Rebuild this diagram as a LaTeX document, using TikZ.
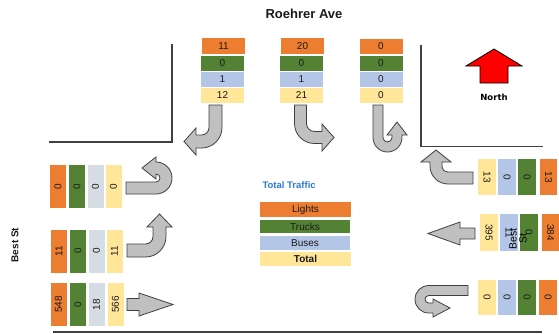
\documentclass[tikz,border=0pt]{standalone}
\usepackage{fontspec}
\setmainfont{Liberation Sans}
\newfontfamily\heavyfont{DejaVu Sans}
\definecolor{corange}{HTML}{ED7D31}
\definecolor{cgreen}{HTML}{548235}
\definecolor{cblue}{HTML}{B4C6E7}
\definecolor{cgrey}{HTML}{D6DCE4}
\definecolor{cyellow}{HTML}{FFE699}
\definecolor{arrowgray}{HTML}{C0C0C0}
\definecolor{arrowline}{HTML}{404040}
\definecolor{roadline}{HTML}{404040}
\definecolor{ttblue}{HTML}{2B7CD3}
\definecolor{txt}{HTML}{1A1A1A}
\begin{document}
\begin{tikzpicture}[x=1pt,y=-1pt,
  cell/.style={draw=none, inner sep=0pt, text=txt, font=\fontsize{10}{11}\selectfont},
  hcell/.style={cell, minimum width=43pt, minimum height=15pt},
  lcell/.style={cell, rotate=90, minimum width=43pt, minimum height=16pt},
  rcell/.style={cell, rotate=-90, minimum height=18pt},
  legcell/.style={draw=none, inner sep=0pt, text=txt, font=\fontsize{10}{12}\selectfont},
  blockarrow/.style={fill=arrowgray, draw=arrowline, line width=0.8pt, line join=miter},
  road/.style={draw=roadline, line width=1.2pt}]
\path[use as bounding box] (0,0) rectangle (559,333);

% title
\node[font=\fontsize{13}{15}\selectfont\bfseries, text=txt] (title) at (304,14) {Roehrer Ave};

% roads
\draw[road] (172,43.5) -- (172,142) -- (49,142);
\draw[road] (421,45) -- (421,146.5) -- (543,146.5);
\draw[road] (53,332) -- (542,332);

% top boxes
\node[hcell, fill=corange, minimum height=16pt] (t1o) at (223.5,46) {11};
\node[hcell, fill=cgreen]  (t1g) at (222.5,63.5) {0};
\node[hcell, fill=cblue]   (t1b) at (222.5,79.5) {1};
\node[hcell, fill=cyellow] (t1y) at (222.5,95.5) {12};
\node[hcell, fill=corange, minimum height=16pt] (t2o) at (302.5,46) {20};
\node[hcell, fill=cgreen]  (t2g) at (301.5,63.5) {0};
\node[hcell, fill=cblue]   (t2b) at (301.5,79.5) {1};
\node[hcell, fill=cyellow] (t2y) at (301.5,95.5) {21};
\node[hcell, fill=corange] (t3o) at (381,46.5) {0};
\node[hcell, fill=cgreen]  (t3g) at (381,63.5) {0};
\node[hcell, fill=cblue]   (t3b) at (381,79.5) {0};
\node[hcell, fill=cyellow] (t3y) at (381,95.5) {0};

% top arrows
\path[blockarrow] (209,105) -- (222,105) -- (222,127.5)
  arc[start angle=0, end angle=90, radius=20.5] -- (196,148) -- (196,155)
  -- (184,141.5) -- (196,128) -- (196,135) -- (201.5,135)
  arc[start angle=90, end angle=0, radius=7.5] -- cycle;
\path[blockarrow] (294.5,105) -- (306.5,105) -- (306.5,123.5)
  arc[start angle=180, end angle=90, radius=8] -- (322,131.5) -- (322,124)
  -- (334,137.5) -- (322,151) -- (322,143.5) -- (314.5,143.5)
  arc[start angle=90, end angle=180, radius=20] -- cycle;
\path[blockarrow] (373,105) -- (383,105) -- (383,137.5)
  arc[start angle=180, end angle=0, radius=4.5] -- (392,135) -- (387,135)
  -- (397,122) -- (407,135) -- (402,135) -- (402,137.5)
  arc[start angle=0, end angle=180, radius=14.5] -- cycle;

% north arrow
\filldraw[fill=red, draw=black, line width=0.8pt] (494,49) -- (522,66) -- (508,66)
  -- (508,83) -- (480,83) -- (480,66) -- (466,66) -- cycle;
\node[font=\heavyfont\fontsize{8.5}{10}\selectfont\bfseries, text=black] (north) at (494,97) {North};

% left label
\node[rotate=90, font=\fontsize{10}{12}\selectfont\bfseries, text=txt] (bestw) at (15,245) {Best St};

% left boxes
\node[lcell, fill=corange] (w1o) at (58,186.5) {0};
\node[lcell, fill=cgreen]  (w1g) at (77,186.5) {0};
\node[lcell, fill=cgrey]   (w1b) at (95.5,186.5) {0};
\node[lcell, fill=cyellow] (w1y) at (113.5,186.5) {0};
\node[lcell, fill=corange] (w2o) at (59,251) {11};
\node[lcell, fill=cgreen]  (w2g) at (78,251) {0};
\node[lcell, fill=cgrey]   (w2b) at (96.5,251) {0};
\node[lcell, fill=cyellow] (w2y) at (114.5,251) {11};
\node[lcell, fill=corange] (w3o) at (58.5,304.5) {548};
\node[lcell, fill=cgreen]  (w3g) at (78,304.5) {0};
\node[lcell, fill=cgrey]   (w3b) at (96.5,304.5) {18};
\node[lcell, fill=cyellow] (w3y) at (115.5,304.5) {566};

% left arrows
\path[blockarrow] (126,182) -- (156,182)
  arc[start angle=90, end angle=-90, radius=4] -- (156,179) -- (142,168)
  -- (156,157) -- (156,162)
  arc[start angle=-90, end angle=90, radius=16] -- (126,194) -- cycle;
\path[blockarrow] (127,244) -- (145.5,244)
  arc[start angle=90, end angle=0, radius=7.5] -- (153,227) -- (147,227)
  -- (159.5,214) -- (172,227) -- (166,227) -- (166,236.5)
  arc[start angle=0, end angle=90, radius=20.5] -- (127,257) -- cycle;
\path[blockarrow] (127,298.5) -- (139,298.5) -- (139,293) -- (173,304.5)
  -- (139,316) -- (139,310.5) -- (127,310.5) -- cycle;

% legend
\node[anchor=west, font=\fontsize{9.5}{11}\selectfont\bfseries, text=ttblue] (legtitle) at (259,185) {Total Traffic};
\node[legcell, fill=corange, minimum width=91pt, minimum height=15pt] (legl) at (305.5,209.5) {Lights};
\node[legcell, fill=cgreen, minimum width=90pt, minimum height=13pt] (legt) at (305,226.5) {Trucks};
\node[legcell, fill=cblue, minimum width=90pt, minimum height=14pt] (legb) at (305,243) {Buses};
\node[legcell, fill=cyellow, minimum width=91pt, minimum height=14pt, font=\fontsize{10}{12}\selectfont\bfseries] (legy) at (305.5,259) {Total};

% right boxes
\node[rcell, fill=cyellow, minimum width=36pt] (e1y) at (487,177) {13};
\node[rcell, fill=cblue,   minimum width=36pt] (e1b) at (507,177) {0};
\node[rcell, fill=cgreen,  minimum width=36pt] (e1g) at (527,177) {0};
\node[rcell, fill=corange, minimum width=36pt, minimum height=17.5pt] (e1o) at (548.5,177) {13};
\node[rcell, fill=cyellow, minimum width=37pt] (e2y) at (489,232.5) {395};
\node[rcell, fill=cblue,   minimum width=37pt] (e2b) at (509,232.5) {11};
\node[rcell, fill=cgreen,  minimum width=37pt] (e2g) at (529,232.5) {0};
\node[rcell, fill=corange, minimum width=37pt, minimum height=17.5pt] (e2o) at (550.5,232.5) {384};
\node[rcell, fill=cyellow, minimum width=35pt] (e3y) at (487,297.5) {0};
\node[rcell, fill=cblue,   minimum width=35pt] (e3b) at (507,297.5) {0};
\node[rcell, fill=cgreen,  minimum width=35pt] (e3g) at (527,297.5) {0};
\node[rcell, fill=corange, minimum width=35pt, minimum height=17.5pt] (e3o) at (548,297.5) {0};

% right label (overlapping)
\node[rotate=90, align=center, inner sep=0pt, text=black, font=\fontsize{10.5}{10}\selectfont] (beste) at (518,239) {Best\\St};

% right arrows
\path[blockarrow] (473,172) -- (448,172)
  arc[start angle=90, end angle=180, radius=6] -- (442,162) -- (451,162)
  -- (436,150) -- (421,162) -- (430,162) -- (430,166)
  arc[start angle=180, end angle=90, radius=18] -- (473,184) -- cycle;
\path[blockarrow] (475,228) -- (460,228) -- (460,222) -- (428,233.5)
  -- (460,245) -- (460,239) -- (475,239) -- cycle;
\path[blockarrow] (468,285.5) -- (428.75,285.5)
  arc[start angle=270, end angle=90, radius=13.75] -- (433,313) -- (433,317)
  -- (450,308) -- (433,299) -- (433,303) -- (428.75,303)
  arc[start angle=90, end angle=270, radius=3.75] -- (468,295.5) -- cycle;
\end{tikzpicture}
\end{document}
